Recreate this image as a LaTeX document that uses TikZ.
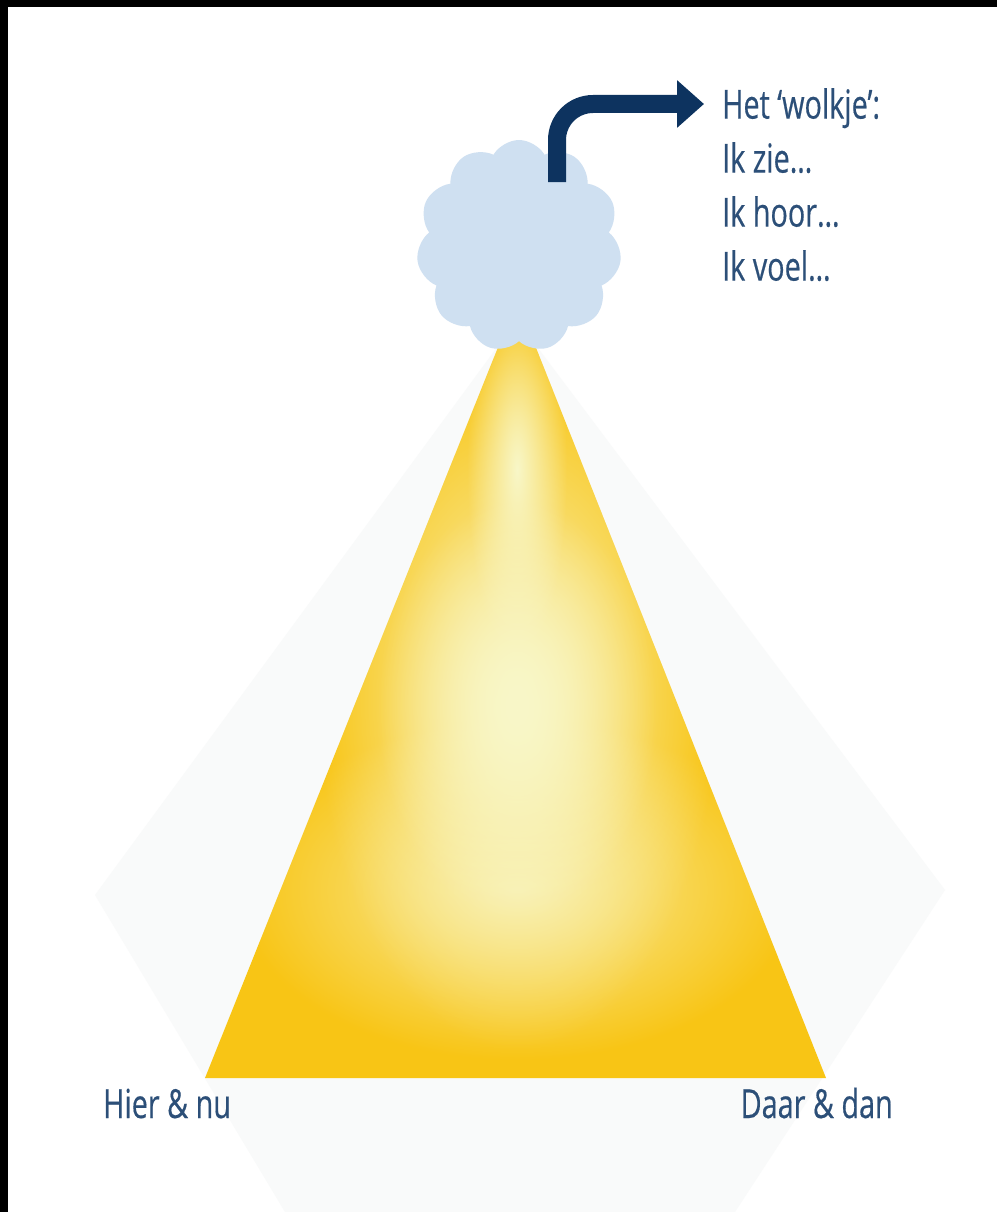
\documentclass[tikz,border=0pt]{standalone}
\usepackage{fontspec}
\setmainfont{Open Sans}[FakeStretch=0.72,FakeBold=0.4]
\usetikzlibrary{shapes.symbols,arrows.meta,fadings}
\definecolor{navy}{HTML}{0D335F}
\definecolor{txtblue}{HTML}{2C4F78}
\definecolor{cloudblue}{HTML}{CFE0F1}
\definecolor{sun}{HTML}{F8C515}
\definecolor{sunlight}{HTML}{F8F7C8}
\definecolor{faint}{HTML}{F9FAFA}
\tikzfading[name=softglow, inner color=transparent!0, outer color=transparent!100]
\tikzset{
  lbl/.style={font=\fontsize{40}{54}\selectfont, text=txtblue, inner sep=0pt},
  cloudbox/.style={cloud, cloud puffs=11, cloud puff arc=120, cloud ignores aspect, fill=cloudblue, draw=none,
    minimum width=205pt, minimum height=212pt, inner sep=0pt},
  bigarrow/.style={draw=navy, line width=18pt, rounded corners=36pt, -{Triangle[length=27pt,width=46pt]}},
  glow/.style={fill=#1, path fading=softglow}
}
\begin{document}
\begin{tikzpicture}[x=1pt,y=-1pt]
\useasboundingbox (0,0) rectangle (997,1212);
\fill[white] (0,0) rectangle (997,1212);
\fill[black] (0,0) rectangle (997,7);
\fill[black] (0,0) rectangle (8,1212);
% faint shadow shape
\fill[faint] (517,320) -- (945,890) -- (735,1212) -- (285,1212) -- (95,895) -- cycle;
% triangle
\coordinate (apex) at (517,300);
\coordinate (bl) at (205,1078);
\coordinate (br) at (826,1078);
\fill[sun] (apex) -- (bl) -- (br) -- cycle;
\begin{scope}
  \clip (apex) -- (bl) -- (br) -- cycle;
  \fill[glow=sunlight!80!sun] (517,890) ellipse [x radius=280, y radius=170];
  \fill[glow=sunlight] (517,700) ellipse [x radius=200, y radius=350];
  \fill[glow=sunlight] (517,710) ellipse [x radius=140, y radius=210];
  \fill[glow=sunlight] (517,470) ellipse [x radius=50, y radius=190];
\end{scope}
% cloud
\node[cloudbox] (cloud) at (519,246) {};
% text
\node[lbl, anchor=north west, align=left] (wolk) at (722,88)
  {Het ‘wolkje’:\\Ik zie…\\Ik hoor…\\Ik voel…};
\node[lbl, anchor=base west] (hier) at (103,1118) {Hier \& nu};
\node[lbl, anchor=base east] (daar) at (893,1118) {Daar \& dan};
% arrow
\coordinate (a0) at (557,182);
\coordinate (a1) at (704,104);
\draw[bigarrow] (a0) |- (a1);
\end{tikzpicture}
\end{document}
